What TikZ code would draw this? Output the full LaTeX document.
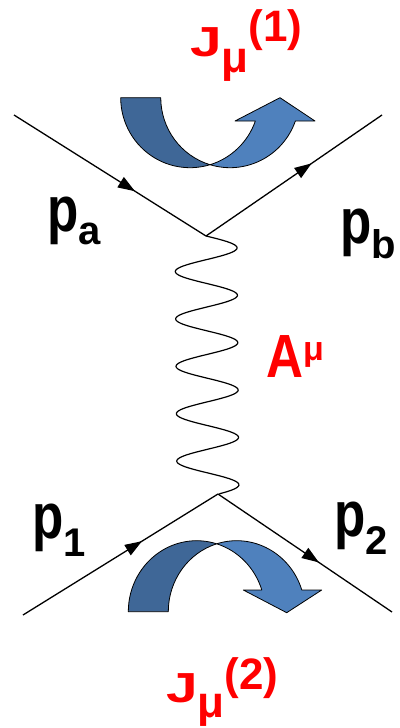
\documentclass[tikz,border=0pt]{standalone}
\usepackage{fontspec}
\setmainfont{Liberation Sans}
\usepackage{tikz}
\usetikzlibrary{arrows.meta,decorations.markings}
\definecolor{currentred}{HTML}{FF0000}
\definecolor{banddark}{HTML}{3F6797}
\definecolor{bandlight}{HTML}{4F81BD}
\newcommand{\fsize}[1]{\fontsize{#1}{#1}\selectfont}

\begin{document}
\begin{tikzpicture}[x=1pt, y=-1pt,
  fermion/.style={line width=1.3pt, postaction={decorate},
    decoration={markings, mark=at position #1 with {\arrow{Triangle[length=17pt,width=12pt]}}}},
  photon/.style={line width=1.2pt},
  band/.style={draw=black, line width=0.8pt, line join=round},
  plabel/.style={inner sep=0pt, anchor=base west, font=\bfseries},
  jlabel/.style={inner sep=0pt, anchor=base west, font=\bfseries, text=currentred}]
  \useasboundingbox (0,0) rectangle (399,728);

  % vertices and free ends
  \coordinate (va) at (206,236);
  \coordinate (vb) at (218,494);
  \coordinate (ina) at (14,115);
  \coordinate (outb) at (382,115);
  \coordinate (in1) at (23,615);
  \coordinate (out2) at (392,612);

  % current arrow, top
  \filldraw[band, fill=banddark] (120.7,97.7) arc[start angle=180, end angle=73.2, x radius=69.3, y radius=70]
    arc[start angle=106.8, end angle=180, x radius=69.3, y radius=70] -- cycle;
  \filldraw[band, fill=bandlight] (210,164.7) arc[start angle=106.8, end angle=19.45, x radius=69.3, y radius=70]
    -- (315,121) -- (280,97.7) -- (235,121) -- (255.35,121)
    arc[start angle=19.45, end angle=73.2, x radius=69.3, y radius=70] -- cycle;

  % current arrow, bottom
  \filldraw[band, fill=banddark] (128.3,611.7) arc[start angle=180, end angle=287, x radius=68.4, y radius=71]
    arc[start angle=253, end angle=180, x radius=68.4, y radius=71] -- cycle;
  \filldraw[band, fill=bandlight] (216.7,543.8) arc[start angle=253, end angle=342.2, x radius=68.4, y radius=71]
    -- (321.7,590) -- (286.7,612.7) -- (243.3,590) -- (261.8,590)
    arc[start angle=342.2, end angle=287, x radius=68.4, y radius=71] -- cycle;

  % fermion lines
  \draw[fermion=0.63] (ina) -- (va);
  \draw[fermion=0.6] (va) -- (outb);
  \draw[fermion=0.61] (in1) -- (vb);
  \draw[fermion=0.58] (vb) -- (out2);

  % photon
  \draw[photon] plot[domain=0:1, samples=240, smooth] ({206+2*\x+31*sin(1960*\x)}, {236+258*\x});

  % labels
  \node[plabel] (pa) at (47,231) {\fsize{64}\scalebox{0.8}[1]{p}\raisebox{-13pt}{\fsize{40}a}};
  \node[plabel] (pb) at (340,243) {\fsize{64}\scalebox{0.8}[1]{p}\raisebox{-15pt}{\fsize{40}b}};
  \node[plabel] (p1) at (32,538) {\fsize{64}\scalebox{0.8}[1]{p}\raisebox{-18pt}{\fsize{40}1}};
  \node[plabel] (p2) at (334,536) {\fsize{64}\scalebox{0.8}[1]{p}\raisebox{-18pt}{\fsize{40}2}};
  \node[jlabel] (J1) at (190,56) {\fsize{42}\scalebox{1.35}[1]{J}\raisebox{-16pt}{\fsize{44}μ}\raisebox{14pt}{\fsize{44}(1)}};
  \node[jlabel] (J2) at (166,702) {\fsize{42}\scalebox{1.35}[1]{J}\raisebox{-15pt}{\fsize{44}μ}\raisebox{13pt}{\fsize{44}(2)}};
  \node[jlabel] (A) at (266,377) {\fsize{61}\scalebox{0.84}[1]{A}\raisebox{17pt}{\fsize{34}μ}};
\end{tikzpicture}
\end{document}
